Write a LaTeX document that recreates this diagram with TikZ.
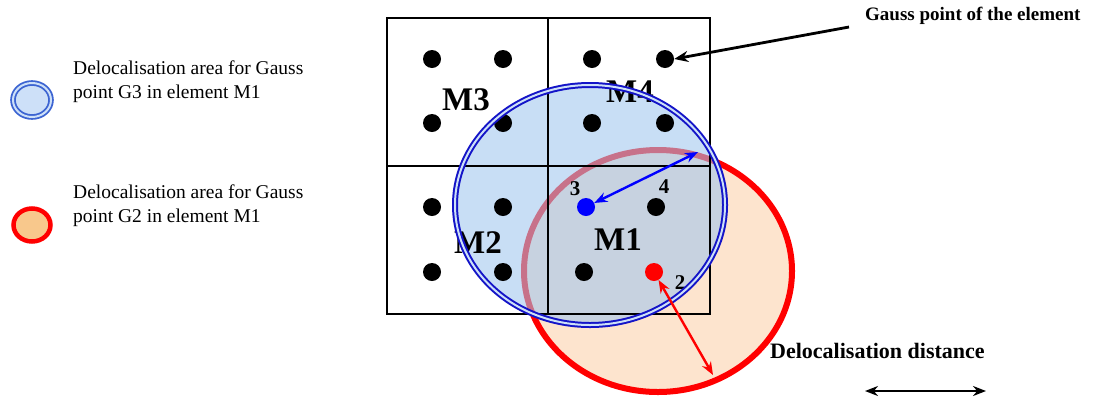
\documentclass[tikz,border=0pt]{standalone}
\usepackage{fontspec}
\setmainfont{Liberation Serif}
\usetikzlibrary{arrows.meta}
\definecolor{ringblue}{RGB}{20,20,200}
\definecolor{fillblue}{RGB}{160,198,238}
\definecolor{peach}{RGB}{253,228,206}
\definecolor{legpeach}{RGB}{248,200,140}
\definecolor{legblue}{RGB}{205,224,248}
\definecolor{legring}{RGB}{60,100,210}
\begin{document}
\begin{tikzpicture}[x=1pt,y=-1pt,
  dot/.style={circle,fill=black,inner sep=0pt,minimum size=18pt},
  gridline/.style={line width=2.8pt,black},
  mlabel/.style={font=\fontsize{33}{33}\selectfont\bfseries,inner sep=0pt},
  numlabel/.style={font=\fontsize{21}{21}\selectfont\bfseries,inner sep=0pt},
  legtext/.style={font=\fontsize{19.5}{24}\selectfont,align=left,anchor=base west,inner sep=0pt},
  dbl/.style={{Stealth[length=13pt,width=10pt]}-{Stealth[length=13pt,width=10pt]},line width=2.4pt}
]
\useasboundingbox (0,0) rectangle (1099,400);
% red area
\fill[peach] (658,271) ellipse [x radius=134,y radius=121];
\draw[red,line width=6pt] (658,271) ellipse [x radius=134,y radius=121];
% blue area
\fill[fillblue,fill opacity=0.58] (590,205) ellipse [x radius=135,y radius=120];
% grid
\draw[gridline] (387,18) rectangle (710,314);
\draw[gridline] (548,18) -- (548,314);
\draw[gridline] (387,166) -- (710,166);
% dots
\node[dot] (m3a) at (432,59) {};
\node[dot] (m3b) at (503,59) {};
\node[dot] (m3c) at (432,123) {};
\node[dot] (m3d) at (503,123) {};
\node[dot] (m4a) at (592,59) {};
\node[dot] (m4b) at (665,59) {};
\node[dot] (m4c) at (592,123) {};
\node[dot] (m4d) at (665,123) {};
\node[dot] (m2a) at (432,207) {};
\node[dot] (m2b) at (503,207) {};
\node[dot] (m2c) at (432,272) {};
\node[dot] (m2d) at (503,272) {};
\node[dot,fill=blue] (g3) at (586,207) {};
\node[dot] (g4) at (656,207) {};
\node[dot] (g1) at (584,272) {};
\node[dot,fill=red] (g2) at (654,272) {};
% labels
\node[mlabel] (lm3) at (466,100) {M3};
\node[mlabel] (lm4) at (630,92) {M4};
\node[mlabel] (lm2) at (478,243) {M2};
\node[mlabel] (lm1) at (618,240) {M1};
\node[numlabel] (n3) at (575,189) {3};
\node[numlabel] (n4) at (664,187) {4};
\node[numlabel] (n2) at (680,283) {2};
% blue ring
\draw[ringblue,line width=2pt,double=legblue,double distance=2pt] (590,205) ellipse [x radius=135,y radius=120];
% arrows
\coordinate (b1) at (698,152);
\draw[dbl,blue] (g3) -- (b1);
\coordinate (r1) at (713,375);
\draw[dbl,red] (g2) -- (r1);
% gauss point label
\node[font=\fontsize{19}{19}\selectfont\bfseries,inner sep=0pt,anchor=base west] (gauss) at (865,20) {Gauss point of the element};
\draw[line width=2.8pt,-{Stealth[length=14pt,width=11pt]}] (849,27) -- (m4b.east);
% delocalisation distance
\node[font=\fontsize{22}{22}\selectfont\bfseries,inner sep=0pt,anchor=base west] (dd) at (770,358) {Delocalisation distance};
\coordinate (d1) at (865,391);
\coordinate (d2) at (986,391);
\draw[dbl,black] (d1) -- (d2);
% legend
\fill[legblue] (32,100) ellipse [x radius=20,y radius=18];
\draw[legring,line width=1.8pt,double=legblue,double distance=2pt] (32,100) ellipse [x radius=19,y radius=17];
\node[legtext] (leg1) at (73,98) {Delocalisation area for Gauss\\point G3 in element M1};
\draw[red,fill=legpeach,line width=4.5pt] (32,225) ellipse [x radius=18.5,y radius=16.5];
\node[legtext] (leg2) at (73,222) {Delocalisation area for Gauss\\point G2 in element M1};
\end{tikzpicture}
\end{document}
